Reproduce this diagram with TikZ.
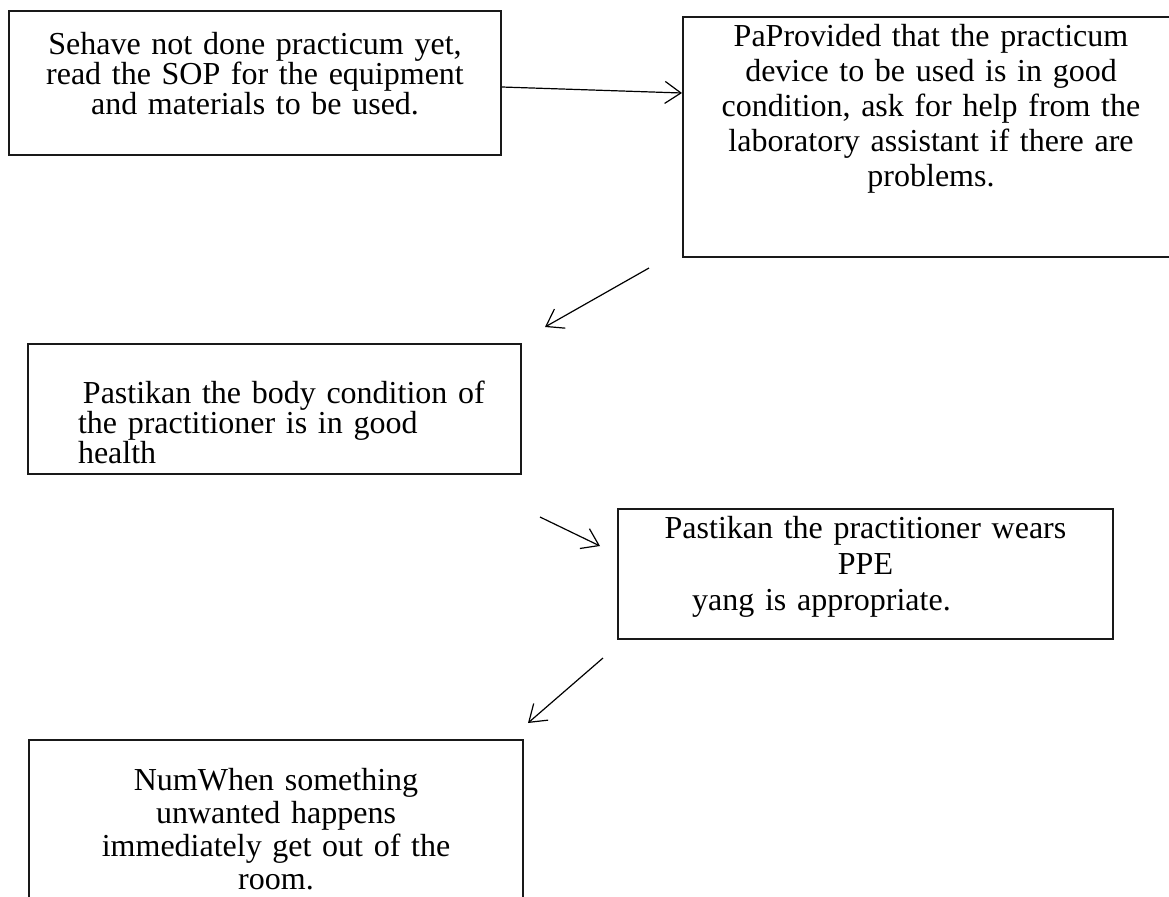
\documentclass[tikz,border=0pt]{standalone}
\usepackage{fontspec}
\setmainfont{Liberation Serif}
\usetikzlibrary{arrows.meta}

\begin{document}
\begin{tikzpicture}[x=0.5pt,y=-0.5pt,>={Straight Barb[length=8pt,width=11pt]},
  stepbox/.style={draw=black!90,line width=1pt,inner sep=0pt,anchor=north west,align=center},
  flow/.style={->,line width=0.6pt}]
\useasboundingbox (0,0) rectangle (1169,896);
% steps
\node[stepbox,text width=246pt,text height=21.5pt,text depth=50.5pt,font=\fontsize{16}{15}\selectfont] (read) at (8,10)
  {Sehave not done practicum yet,\\read the SOP for the equipment\\and materials to be used.};
\node[stepbox,text width=248pt,text height=14.5pt,text depth=105.5pt,font=\fontsize{16}{17.5}\selectfont] (device) at (682,16)
  {PaProvided that the practicum\\device to be used is in good\\condition, ask for help from the\\laboratory assistant if there are\\problems.};
\node[stepbox,align=left,text width=246.5pt,text height=29.5pt,text depth=35.5pt,font=\fontsize{16}{15}\selectfont] (health) at (27,343)
  {\hspace*{27.5pt}Pastikan the body condition of\\\hspace*{25pt}the practitioner is in good\\\hspace*{25pt}health};
\node[stepbox,text width=247.5pt,text height=14.5pt,text depth=50.5pt,font=\fontsize{16}{18}\selectfont] (ppe) at (617,508)
  {Pastikan the practitioner wears\\PPE\\yang is appropriate.\hspace*{44pt}\mbox{}};
\node[stepbox,text width=247pt,text height=25pt,text depth=75pt,font=\fontsize{16}{16.5}\selectfont] (exit) at (28,739)
  {NumWhen something\\unwanted happens\\immediately get out of the\\room.};
% arrows
\coordinate (d1) at (649,268); \coordinate (d2) at (545,327);
\coordinate (h1) at (540,517); \coordinate (h2) at (600,546);
\coordinate (p1) at (603,658); \coordinate (p2) at (528,723);
\draw[flow] ([yshift=-2pt]read.east) -- ([yshift=22pt]device.west);
\draw[flow] (d1) -- (d2);
\draw[flow] (h1) -- (h2);
\draw[flow] (p1) -- (p2);
\end{tikzpicture}
\end{document}
